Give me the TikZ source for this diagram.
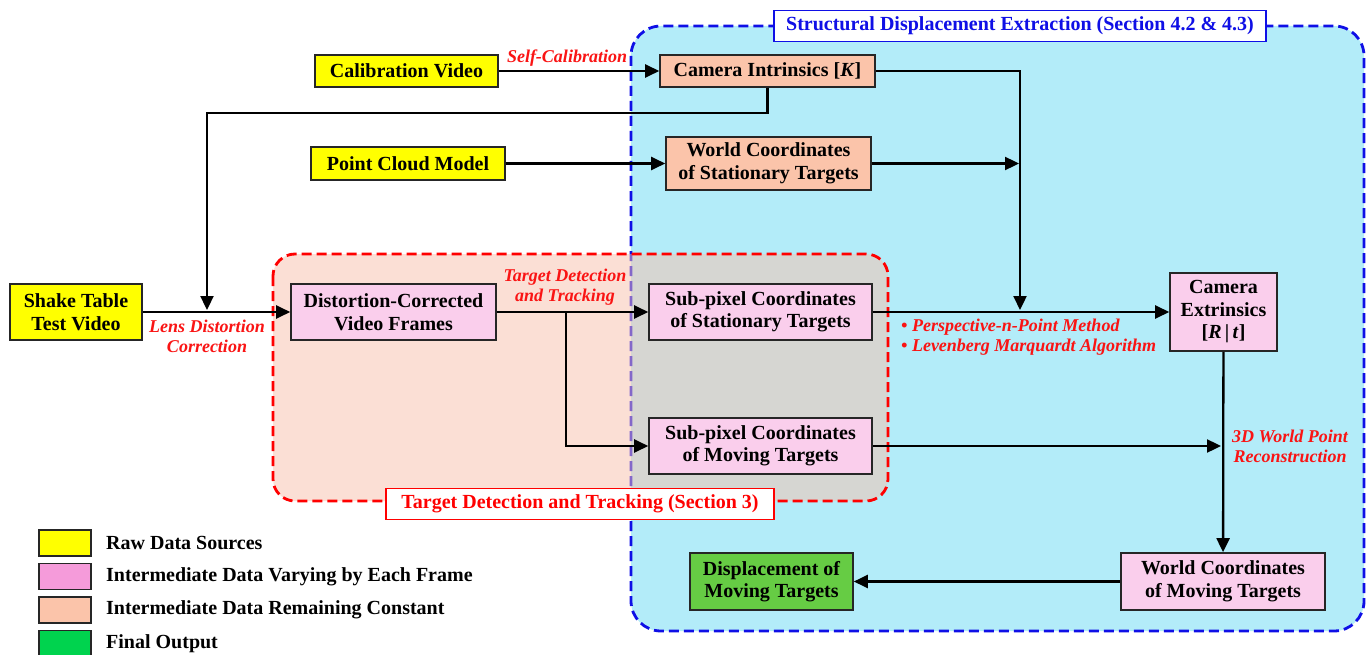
\documentclass[tikz,border=0pt]{standalone}
\usepackage{fontspec}
\setmainfont{Liberation Serif}
\usetikzlibrary{arrows.meta}
\definecolor{cyanbg}{RGB}{179,236,249}
\definecolor{peach}{RGB}{249,193,173}
\definecolor{yel}{RGB}{255,255,0}
\definecolor{pinkn}{RGB}{250,206,236}
\definecolor{orangen}{RGB}{251,196,170}
\definecolor{greenn}{RGB}{102,204,68}
\definecolor{legpink}{RGB}{245,155,218}
\definecolor{leggreen}{RGB}{0,211,78}
\definecolor{lblred}{RGB}{250,20,20}
\definecolor{bluedash}{RGB}{15,15,230}
\begin{document}
\begin{tikzpicture}[x=1pt,y=-1pt,
 box/.style={draw=black!85,line width=1.6pt,align=center,font=\fontsize{20}{22.5}\selectfont\bfseries,inner sep=1pt},
 arr/.style={line width=2.3pt,-{Triangle[length=14pt,width=13pt]}},
 lbl/.style={text=lblred,font=\fontsize{18}{20}\selectfont\bfseries\itshape,align=center,inner sep=0pt},
 legtext/.style={anchor=west,font=\fontsize{20}{22}\selectfont\bfseries,inner sep=0pt},
 swatch/.style={draw=black!85,line width=1.6pt,minimum width=52pt,minimum height=26pt,inner sep=0pt},
 titlebox/.style={fill=white,line width=1.4pt,font=\fontsize{20}{22}\selectfont\bfseries,inner sep=0pt}
]
\useasboundingbox (0,0) rectangle (1372,655);
\fill[white] (0,0) rectangle (1372,655);

% blue region
\draw[bluedash, line width=2.8pt, dash pattern=on 10pt off 5pt, fill=cyanbg, rounded corners=30pt] (631,26) rectangle (1364,631);
% red region
\fill[peach, opacity=0.5, rounded corners=22pt] (273,254) rectangle (888,501);
\draw[red, line width=2.8pt, dash pattern=on 10pt off 5pt, rounded corners=22pt] (273,254) rectangle (888,501);

% titles
\node[titlebox, draw=bluedash, text=bluedash, minimum width=492pt, minimum height=31pt] (t1) at (1020,26) {Structural Displacement Extraction (Section 4.2 \& 4.3)};
\node[titlebox, draw=red, text=red, minimum width=388pt, minimum height=31pt] (t2) at (580,504) {Target Detection and Tracking (Section 3)};

% nodes
\node[box, fill=yel, minimum width=183pt, minimum height=32pt] (cal) at (406.5,71) {Calibration Video};
\node[box, fill=orangen, minimum width=215pt, minimum height=32pt] (K) at (767.5,71) {Camera Intrinsics [\textit{K}]};
\node[box, fill=yel, minimum width=194pt, minimum height=33pt] (pcm) at (408,163.5) {Point Cloud Model};
\node[box, fill=orangen, minimum width=205pt, minimum height=53pt] (wcs) at (768.5,163.5) {World Coordinates\\of Stationary Targets};
\node[box, fill=yel, minimum width=132pt, minimum height=56pt] (stv) at (76,312) {Shake Table\\Test Video};
\node[box, fill=pinkn, minimum width=205pt, minimum height=56pt] (dcv) at (393.5,312) {Distortion-Corrected\\Video Frames};
\node[box, fill=pinkn, minimum width=223pt, minimum height=56pt] (sps) at (760.5,312) {Sub-pixel Coordinates\\of Stationary Targets};
\node[box, fill=pinkn, minimum width=223pt, minimum height=56pt] (spm) at (760.5,446) {Sub-pixel Coordinates\\of Moving Targets};
\node[box, fill=pinkn, minimum width=107pt, minimum height=78pt] (ext) at (1223.5,312) {Camera\\Extrinsics\\{[}\textit{R}\,|\,\textit{t}{]}};
\node[box, fill=pinkn, minimum width=204pt, minimum height=57pt] (wcm) at (1223,581.5) {World Coordinates\\of Moving Targets};
\node[box, fill=greenn, minimum width=163pt, minimum height=57pt] (disp) at (771.5,581.5) {Displacement of\\Moving Targets};

% junction coordinates
\coordinate (lj) at (207,310);
\coordinate (kbend) at (767.5,113);
\coordinate (pj) at (1020,310);
\coordinate (wj) at (1019,163.5);
\coordinate (bj) at (566,312);
\coordinate (rj) at (1221,446);

% connectors
\draw[arr] (cal) -- (K);
\draw[arr] (K.south) -- (kbend) -| (lj);
\draw[arr] (K.east) -| (pj);
\draw[arr] (pcm) -- (wcs);
\draw[arr] (wcs.east) -- (wj);
\draw[arr] (stv) -- (dcv);
\draw[arr] (dcv) -- (sps);
\draw[arr] (bj) |- (spm.west);
\draw[arr] (sps) -- (ext);
\draw[arr] (ext) -- (wcm);
\draw[arr] (spm.east) -- (rj);
\draw[arr] (wcm) -- (disp);

% labels
\node[lbl] (l1) at (567,58) {Self-Calibration};
\node[lbl] (l2) at (207,336) {Lens Distortion\\Correction};
\node[lbl] (l3) at (565,287) {Target Detection\\and Tracking};
\node[lbl, align=left, anchor=west] (l4) at (901,337) {\textbullet\ Perspective-n-Point Method\\\textbullet\ Levenberg Marquardt Algorithm};
\node[lbl] (l5) at (1290,446) {3D World Point\\Reconstruction};

% legend
\node[swatch, fill=yel] (s1) at (65,543) {};
\node[swatch, fill=legpink] (s2) at (65,576.5) {};
\node[swatch, fill=orangen] (s3) at (65,610) {};
\node[swatch, fill=leggreen] (s4) at (65,643.5) {};
\node[legtext] (g1) at (106,543) {Raw Data Sources};
\node[legtext] (g2) at (106,576.5) {Intermediate Data Varying by Each Frame};
\node[legtext] (g3) at (106,610) {Intermediate Data Remaining Constant};
\node[legtext] (g4) at (106,643.5) {Final Output};
\end{tikzpicture}
\end{document}
